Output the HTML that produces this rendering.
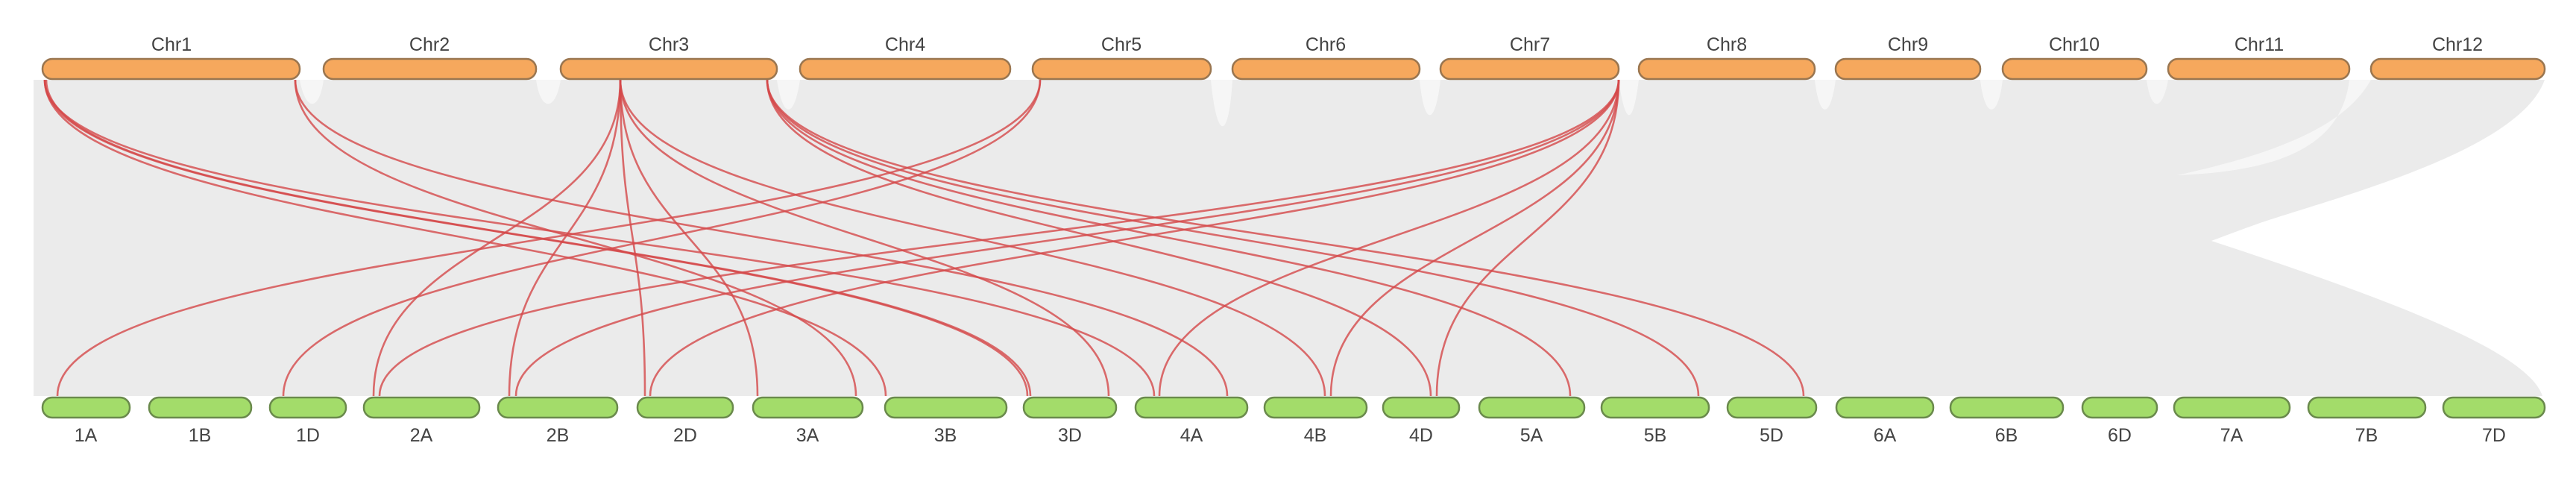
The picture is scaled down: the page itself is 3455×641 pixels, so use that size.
<!DOCTYPE html>
<html><head><meta charset="utf-8"><style>
html,body{margin:0;padding:0;background:#fff;}
svg{display:block;}
text{font-family:"Liberation Sans",sans-serif;font-size:25px;fill:#444;text-anchor:middle;}
</style></head><body>
<svg width="3455" height="641" viewBox="0 0 3455 641" xmlns="http://www.w3.org/2000/svg">
<path d="M45,107 L3413,107 C3380,200 3150,260 3034,298 C3000,310 2980,318 2966,323 C3200,400 3390,470 3410,531 L45,531 Z" fill="#ebebeb"/>
<g fill="#f7f7f7" opacity="0.9">
<path d="M402,107 C410,150 428,150 434,107 Z"/>
<path d="M719,107 C725,150 745,150 752,107 Z"/>
<path d="M1042,107 C1050,160 1065,160 1073,107 Z"/>
<path d="M1624,107 C1632,190 1648,190 1653,107 Z"/>
<path d="M1904,107 C1910,170 1925,170 1932,107 Z"/>
<path d="M2171,107 C2180,170 2190,170 2198,107 Z"/>
<path d="M2434,107 C2440,160 2455,160 2462,107 Z"/>
<path d="M2656,107 C2662,160 2680,160 2686,107 Z"/>
<path d="M2879,107 C2885,150 2900,150 2908,107 Z"/>
<path d="M3151,107 C3140,200 3050,230 2920,235 C3080,200 3150,160 3180,107 Z"/>
</g>
<g fill="none" stroke="#d4484a" stroke-width="2.6" stroke-opacity="0.8">
<path d="M1395,107 C1395,319 77,319 77,531"/>
<path d="M1395,107 C1395,319 380,319 380,531"/>
<path d="M2171,107 C2171,319 509,319 509,531"/>
<path d="M2171,107 C2171,319 692,319 692,531"/>
<path d="M2171,107 C2171,319 872,319 872,531"/>
<path d="M2171,107 C2171,319 1555,319 1555,531"/>
<path d="M2171,107 C2171,319 1785,319 1785,531"/>
<path d="M2171,107 C2171,319 1927,319 1927,531"/>
<path d="M832,107 C832,319 501,319 501,531"/>
<path d="M832,107 C832,319 683,319 683,531"/>
<path d="M832,107 C832,319 865,319 865,531"/>
<path d="M832,107 C832,319 1016,319 1016,531"/>
<path d="M832,107 C832,319 1487,319 1487,531"/>
<path d="M832,107 C832,319 1777,319 1777,531"/>
<path d="M60,107 C60,319 1188,319 1188,531"/>
<path d="M60,107 C60,319 1378,319 1378,531"/>
<path d="M62,107 C62,319 1382,319 1382,531"/>
<path d="M60,107 C60,319 1548,319 1548,531"/>
<path d="M396,107 C396,319 1148,319 1148,531"/>
<path d="M396,107 C396,319 1646,319 1646,531"/>
<path d="M1029,107 C1029,319 1919,319 1919,531"/>
<path d="M1029,107 C1029,319 2106,319 2106,531"/>
<path d="M1029,107 C1029,319 2278,319 2278,531"/>
<path d="M1029,107 C1029,319 2419,319 2419,531"/>
</g>
<g fill="#f6a85d" stroke="#9a7650" stroke-width="2.5">
<rect x="57" y="79" width="345" height="27" rx="13"/>
<rect x="434" y="79" width="285" height="27" rx="13"/>
<rect x="752" y="79" width="290" height="27" rx="13"/>
<rect x="1073" y="79" width="282" height="27" rx="13"/>
<rect x="1385" y="79" width="239" height="27" rx="13"/>
<rect x="1653" y="79" width="251" height="27" rx="13"/>
<rect x="1932" y="79" width="239" height="27" rx="13"/>
<rect x="2198" y="79" width="236" height="27" rx="13"/>
<rect x="2462" y="79" width="194" height="27" rx="13"/>
<rect x="2686" y="79" width="193" height="27" rx="13"/>
<rect x="2908" y="79" width="243" height="27" rx="13"/>
<rect x="3180" y="79" width="233" height="27" rx="13"/>
</g>
<g>
<text x="230" y="68">Chr1</text><text x="576" y="68">Chr2</text><text x="897" y="68">Chr3</text>
<text x="1214" y="68">Chr4</text><text x="1504" y="68">Chr5</text><text x="1778" y="68">Chr6</text>
<text x="2052" y="68">Chr7</text><text x="2316" y="68">Chr8</text><text x="2559" y="68">Chr9</text>
<text x="2782" y="68">Chr10</text><text x="3030" y="68">Chr11</text><text x="3296" y="68">Chr12</text>
</g>
<g fill="#a3dc6a" stroke="#6a8a4c" stroke-width="2.5">
<rect x="57" y="533" width="117" height="27" rx="13"/>
<rect x="200" y="533" width="137" height="27" rx="13"/>
<rect x="362" y="533" width="102" height="27" rx="13"/>
<rect x="488" y="533" width="155" height="27" rx="13"/>
<rect x="668" y="533" width="160" height="27" rx="13"/>
<rect x="855" y="533" width="128" height="27" rx="13"/>
<rect x="1010" y="533" width="147" height="27" rx="13"/>
<rect x="1187" y="533" width="163" height="27" rx="13"/>
<rect x="1373" y="533" width="124" height="27" rx="13"/>
<rect x="1523" y="533" width="150" height="27" rx="13"/>
<rect x="1696" y="533" width="137" height="27" rx="13"/>
<rect x="1855" y="533" width="102" height="27" rx="13"/>
<rect x="1984" y="533" width="141" height="27" rx="13"/>
<rect x="2148" y="533" width="144" height="27" rx="13"/>
<rect x="2317" y="533" width="119" height="27" rx="13"/>
<rect x="2463" y="533" width="130" height="27" rx="13"/>
<rect x="2616" y="533" width="151" height="27" rx="13"/>
<rect x="2793" y="533" width="100" height="27" rx="13"/>
<rect x="2916" y="533" width="155" height="27" rx="13"/>
<rect x="3096" y="533" width="157" height="27" rx="13"/>
<rect x="3277" y="533" width="136" height="27" rx="13"/>
</g>
<g>
<text x="115" y="592">1A</text><text x="268" y="592">1B</text><text x="413" y="592">1D</text>
<text x="565" y="592">2A</text><text x="748" y="592">2B</text><text x="919" y="592">2D</text>
<text x="1083" y="592">3A</text><text x="1268" y="592">3B</text><text x="1435" y="592">3D</text>
<text x="1598" y="592">4A</text><text x="1764" y="592">4B</text><text x="1906" y="592">4D</text>
<text x="2054" y="592">5A</text><text x="2220" y="592">5B</text><text x="2376" y="592">5D</text>
<text x="2528" y="592">6A</text><text x="2691" y="592">6B</text><text x="2843" y="592">6D</text>
<text x="2993" y="592">7A</text><text x="3174" y="592">7B</text><text x="3345" y="592">7D</text>
</g>
</svg>
</body></html>
